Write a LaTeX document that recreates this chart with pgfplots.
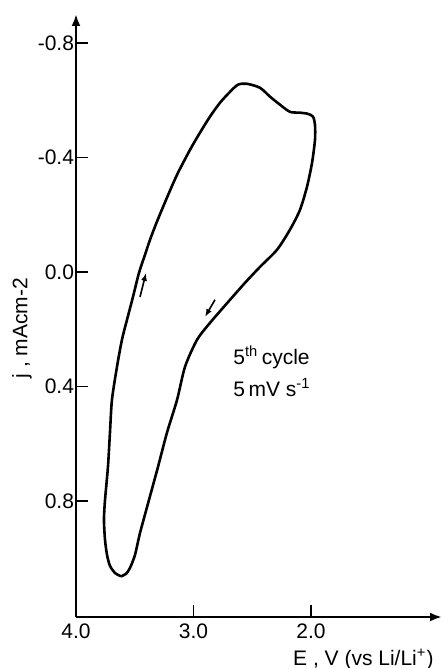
\documentclass[border=0pt]{standalone}
\usepackage{pgfplots}
\pgfplotsset{compat=1.18}
\usepackage{fontspec}
\setmainfont{Liberation Sans}
\usetikzlibrary{arrows.meta}
\begin{document}
\fontsize{10.5pt}{12pt}\selectfont
\begin{tikzpicture}
\path[use as bounding box] (-38pt,-25.5pt) rectangle (183.5pt,308.5pt);
\begin{axis}[
  at={(0,0)}, anchor=south west,
  scale only axis, width=183pt, height=301.5pt,
  x dir=reverse, y dir=reverse,
  xmin=0.885, xmax=4.0, ymin=-0.902, ymax=1.206,
  axis lines=left,
  axis line style={line width=1.4pt, {Latex[length=6pt,width=4.5pt]}-},
  xtick={4,3,2}, xticklabels={4.0,3.0,2.0},
  ytick={-0.8,-0.4,0,0.4,0.8}, yticklabels={-0.8,-0.4,0.0,0.4,0.8},
  tick align=inside, major tick length=6pt,
  tick style={line width=0.9pt, black},
  yticklabel style={inner xsep=0.8pt},
  xticklabel style={inner ysep=3pt},
  ylabel={j , mAcm-2},
  every axis y label/.style={at={(axis description cs:-0.1475,0.479)}, rotate=90, anchor=center},
  xlabel={E , V (vs Li/Li\textsuperscript{+})},
  every axis x label/.style={at={(axis description cs:0.997,-0.0796)}, anchor=base east},
  clip=false,
]
\addplot[black, line width=1.3pt, smooth, tension=0.45] coordinates {
(3.617,1.064)
(3.668,1.052)
(3.711,1.027)
(3.736,0.989)
(3.753,0.936)
(3.762,0.866)
(3.753,0.797)
(3.728,0.681)
(3.711,0.562)
(3.694,0.447)
(3.651,0.331)
(3.609,0.237)
(3.566,0.167)
(3.515,0.087)
(3.464,0.003)
(3.413,-0.060)
(3.370,-0.113)
(3.311,-0.176)
(3.234,-0.252)
(3.140,-0.340)
(3.030,-0.427)
(2.945,-0.487)
(2.860,-0.543)
(2.774,-0.592)
(2.689,-0.630)
(2.621,-0.655)
(2.545,-0.658)
(2.434,-0.644)
(2.349,-0.613)
(2.264,-0.585)
(2.179,-0.560)
(2.094,-0.557)
(2.026,-0.553)
(1.983,-0.543)
(1.966,-0.515)
(1.966,-0.462)
(1.991,-0.382)
(2.034,-0.298)
(2.094,-0.217)
(2.179,-0.148)
(2.289,-0.078)
(2.434,-0.018)
(2.562,0.038)
(2.689,0.097)
(2.860,0.178)
(2.970,0.237)
(3.072,0.331)
(3.140,0.447)
(3.226,0.562)
(3.302,0.681)
(3.379,0.797)
(3.455,0.912)
(3.498,0.989)
(3.540,1.034)
(3.574,1.055)
(3.617,1.064)
};
\draw[line width=0.8pt, -{Latex[length=4pt,width=3pt]}] (axis cs:3.455,0.087) -- (axis cs:3.404,0.003);
\draw[line width=0.8pt, -{Latex[length=4pt,width=3pt]}] (axis cs:2.817,0.097) -- (axis cs:2.902,0.157);
\node[anchor=base west, inner sep=0pt] at (axis cs:2.664,0.324) {5\textsuperscript{th}\,cycle};
\node[anchor=base west, inner sep=0pt] at (axis cs:2.664,0.436) {5\,mV s\textsuperscript{-1}};
\end{axis}
\end{tikzpicture}
\end{document}
